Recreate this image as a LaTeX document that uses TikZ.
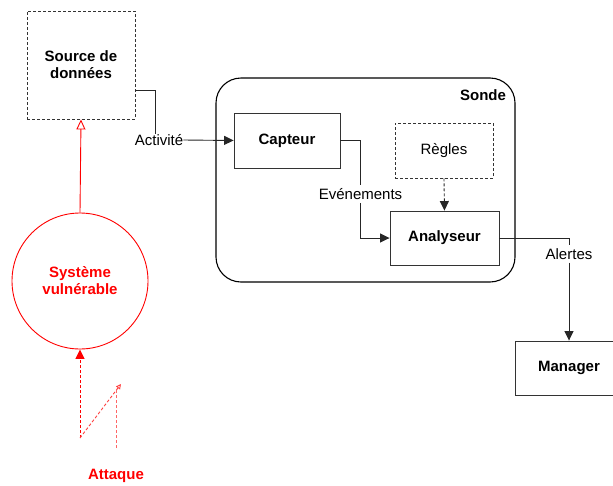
\documentclass[tikz,border=0pt]{standalone}
\usepackage{fontspec}
\setmainfont{Liberation Sans}
\usetikzlibrary{arrows.meta}
\begin{document}
\begin{tikzpicture}[x=1pt,y=-1pt,
  font=\fontsize{15}{17}\selectfont,
  box/.style={draw=black!80, line width=0.9pt, inner sep=0pt, align=center,
              font=\fontsize{15}{17}\selectfont\bfseries},
  dbox/.style={box, dash pattern=on 3pt off 2pt},
  lbl/.style={inner sep=0pt},
  link/.style={draw=black!85, line width=0.9pt},
  tip/.style={-{Triangle[length=9.5pt,width=9pt]}},
  attack/.style={draw=red, line width=0.9pt, dash pattern=on 3pt off 2pt},
]
\useasboundingbox (0,0) rectangle (613,485);

% data source and vulnerable system
\node[dbox, minimum width=108pt, minimum height=108pt] (src) at (81,65) {Source de\\données};
\node[draw=red, line width=0.9pt, circle, minimum size=136pt, inner sep=0pt, align=center,
      text=red, font=\fontsize{15}{17}\selectfont\bfseries] (sys) at (80,281) {Système\\vulnérable};
\draw[draw=red, line width=0.9pt, -{Triangle[open, length=10pt, width=9pt]}] (sys.north) -- (src.south);

% probe
\node[draw=black, line width=1.1pt, rounded corners=25pt, minimum width=299pt, minimum height=204pt]
  (sonde) at (365.5,180) {};
\node[font=\fontsize{15}{17}\selectfont\bfseries] (sondelbl) at (483,95) {Sonde};
\node[box, minimum width=106pt, minimum height=55pt] (cap) at (287,140.5) {Capteur};
\node[dbox, minimum width=98pt, minimum height=55pt, font=\fontsize{15}{17}\selectfont] (reg) at (444,150.5) {Règles};
\node[box, minimum width=109pt, minimum height=54pt] (ana) at (444.5,238) {Analyseur};
\node[box, minimum width=108pt, minimum height=54pt] (man) at (569,368) {Manager};

% connector labels
\node[lbl] (act) at (159,140) {Activité};
\node[lbl, inner sep=3pt] (evt) at (360.5,194) {Evénements};
\node[lbl, inner sep=3pt] (alr) at (569,254) {Alertes};

% flows
\coordinate (a1) at (155,90);
\draw[link] (src.east |- a1) -- (a1) -- (a1 |- act.north);
\draw[link, tip] (act.east) -- (cap.west);
\draw[link] (cap.east) -| (evt.north);
\draw[link, tip] (evt.south) |- (ana.west);
\draw[link, tip, dash pattern=on 3pt off 2pt] (reg.south) -- (ana.north);
\draw[link] (ana.east) -| (alr.north);
\draw[link, tip] (alr.south) -- (man.north);

% attack
\coordinate (k0) at (80,438);
\coordinate (k1) at (121,384);
\coordinate (k2) at (116,388);
\coordinate (k3) at (116,448);
\draw[attack, -{Triangle[length=9.5pt,width=9pt]}] (k0) -- (sys.south);
\draw[attack, draw=red!75, -{Triangle[open, length=5pt, width=5pt]}] (k0) -- (k1);
\draw[attack, draw=red!60] (k3) -- (k2);
\node[text=red, font=\fontsize{15}{17}\selectfont\bfseries] (atk) at (116,476) {Attaque};
\end{tikzpicture}
\end{document}
